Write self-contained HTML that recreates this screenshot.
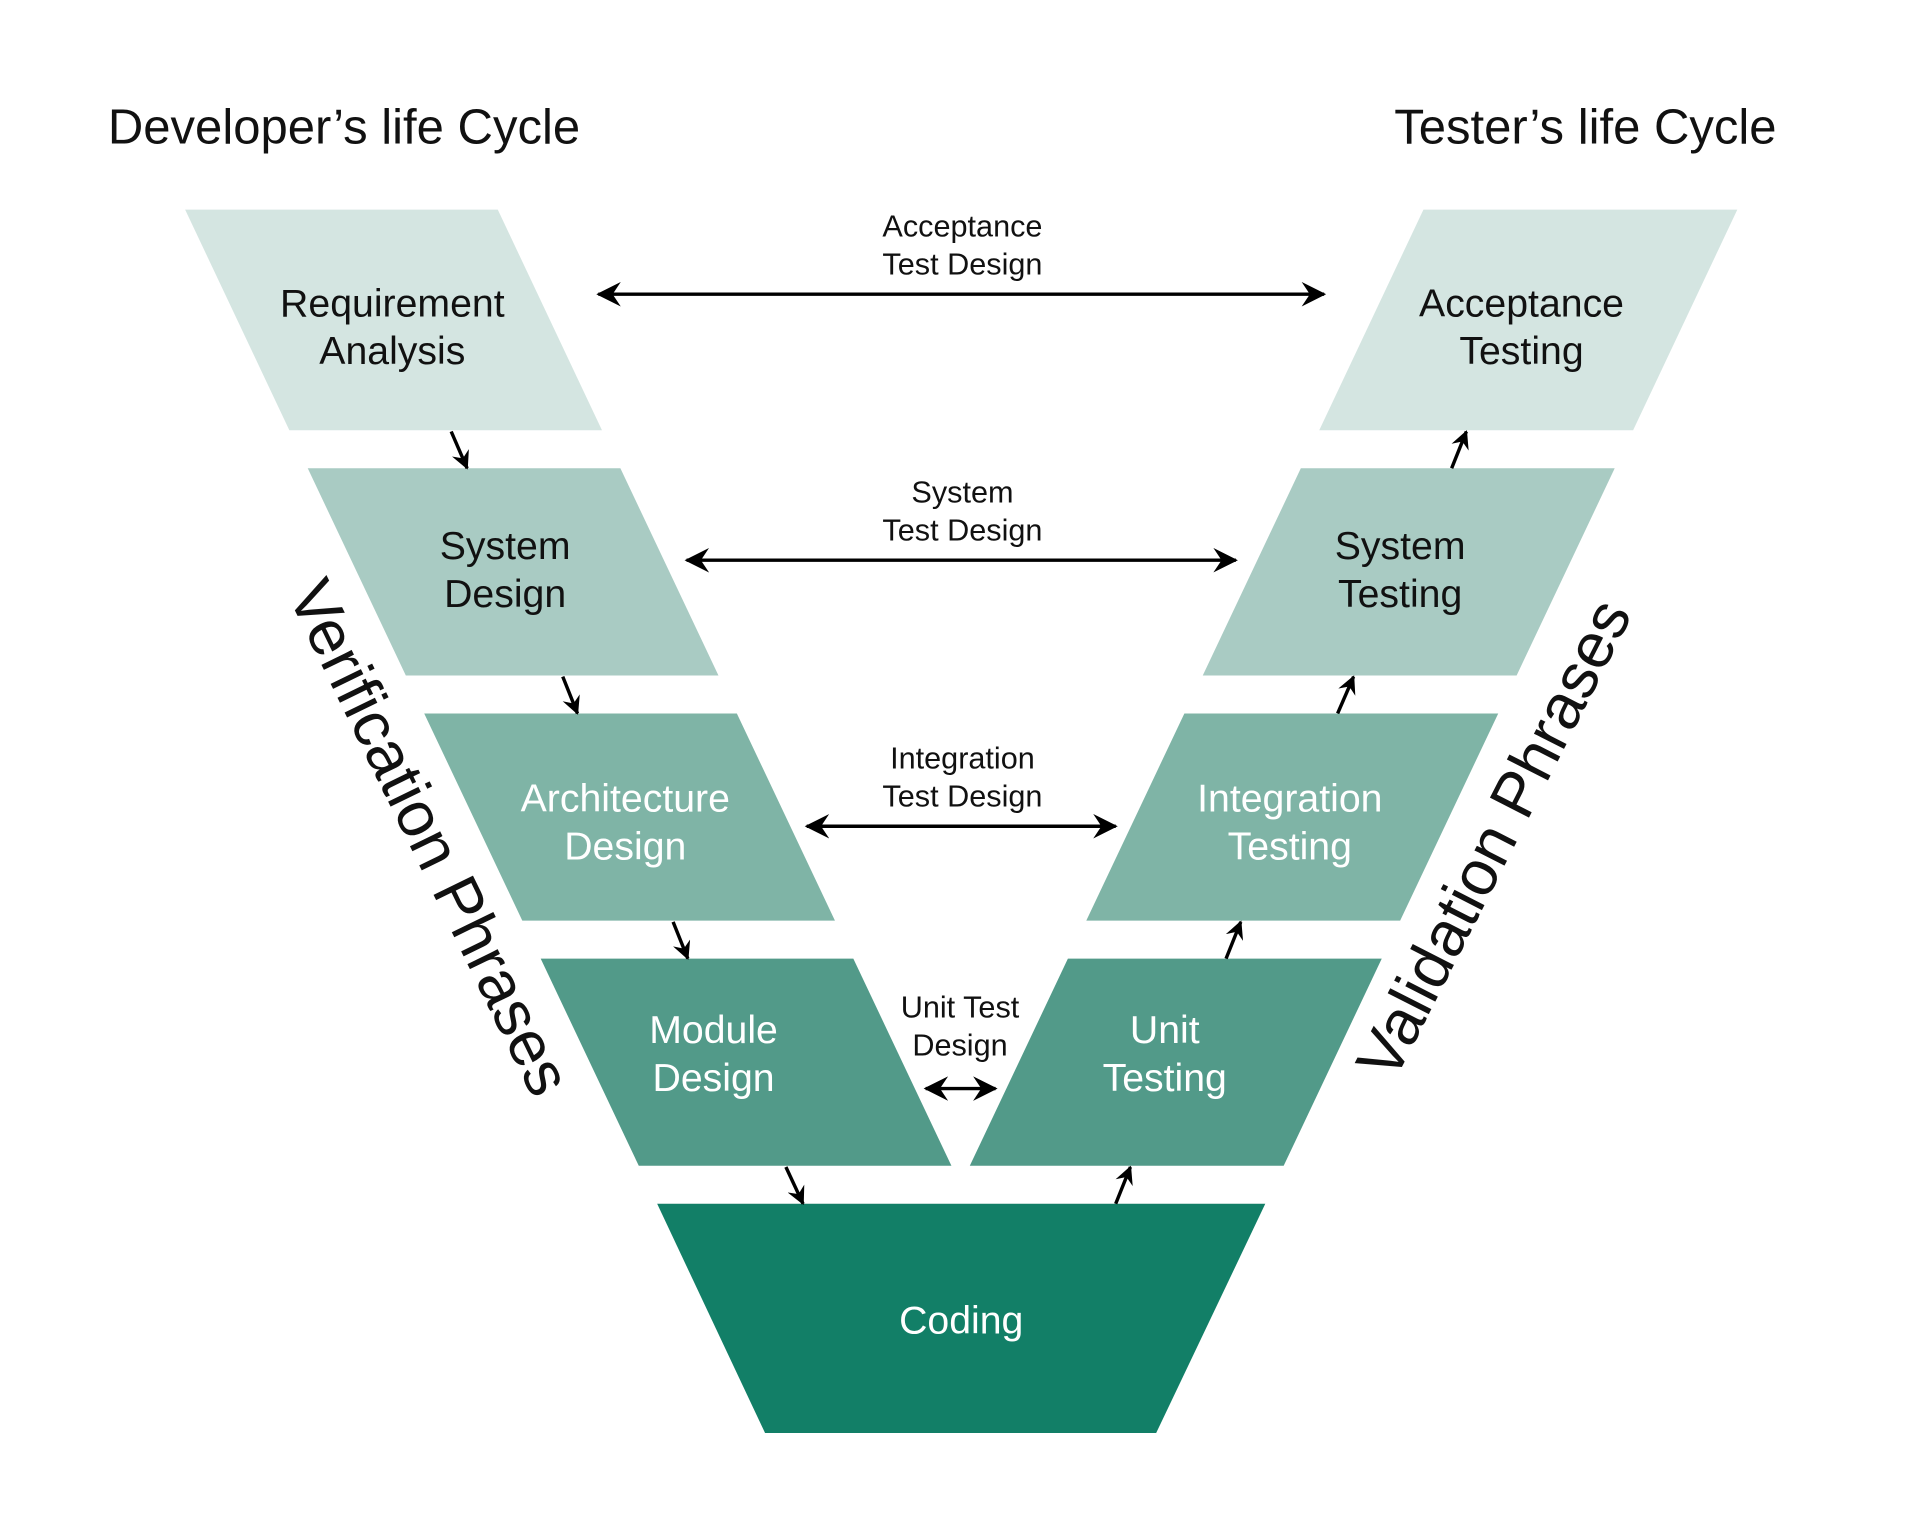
<!DOCTYPE html>
<html><head><meta charset="utf-8"><style>
html,body{margin:0;padding:0;background:#fff;}
svg{display:block;}
text{font-family:"Liberation Sans",sans-serif;}
</style></head><body>
<svg width="1920" height="1536" viewBox="0 0 1566 1253" preserveAspectRatio="none" xmlns="http://www.w3.org/2000/svg">
<defs>
<marker id="ah" viewBox="0 0 12 12" refX="11" refY="6" markerWidth="15" markerHeight="15" markerUnits="userSpaceOnUse" orient="auto-start-reverse">
<path d="M0,0 L12,6 L0,12 L4,6 Z" fill="#000"/>
</marker>
<marker id="ah2" viewBox="0 0 12 12" refX="11" refY="6" markerWidth="20" markerHeight="20" markerUnits="userSpaceOnUse" orient="auto-start-reverse">
<path d="M0,0 L12,6 L0,12 L4,6 Z" fill="#000"/>
</marker>
</defs>
<rect width="1566" height="1253" fill="#fff"/>
<text x="88" y="117" font-size="40" fill="#111">Developer’s life Cycle</text>
<text x="1449" y="117" font-size="40" fill="#111" text-anchor="end">Tester’s life Cycle</text>

<polygon points="151,171 406,171 491,351 236,351" fill="#d4e5e1"/>
<polygon points="251,382 506,382 586,551 331,551" fill="#a9cbc3"/>
<polygon points="346,582 601,582 681,751 426,751" fill="#7fb4a6"/>
<polygon points="441,782 696,782 776,951 521,951" fill="#529a89"/>
<polygon points="536,982 1032,982 943,1169 624,1169" fill="#127f67"/>
<polygon points="871,782 1127,782 1047,951 791,951" fill="#529a89"/>
<polygon points="966,582 1222,582 1142,751 886,751" fill="#7fb4a6"/>
<polygon points="1061,382 1317,382 1237,551 981,551" fill="#a9cbc3"/>
<polygon points="1161,171 1417,171 1332,351 1076,351" fill="#d4e5e1"/>

<g font-size="32" text-anchor="middle">
<text x="320" y="258" fill="#111">Requirement</text><text x="320" y="297" fill="#111">Analysis</text>
<text x="412" y="456" fill="#111">System</text><text x="412" y="495" fill="#111">Design</text>
<text x="510" y="662" fill="#fff">Architecture</text><text x="510" y="701" fill="#fff">Design</text>
<text x="582" y="851" fill="#fff">Module</text><text x="582" y="890" fill="#fff">Design</text>
<text x="784" y="1088" fill="#fff">Coding</text>
<text x="950" y="851" fill="#fff">Unit</text><text x="950" y="890" fill="#fff">Testing</text>
<text x="1052" y="662" fill="#fff">Integration</text><text x="1052" y="701" fill="#fff">Testing</text>
<text x="1142" y="456" fill="#111">System</text><text x="1142" y="495" fill="#111">Testing</text>
<text x="1241" y="258" fill="#111">Acceptance</text><text x="1241" y="297" fill="#111">Testing</text>
</g>

<g font-size="25" text-anchor="middle" fill="#111">
<text x="785" y="193">Acceptance</text><text x="785" y="224">Test Design</text>
<text x="785" y="410">System</text><text x="785" y="441">Test Design</text>
<text x="785" y="627">Integration</text><text x="785" y="658">Test Design</text>
<text x="783" y="830">Unit Test</text><text x="783" y="861">Design</text>
</g>

<g stroke="#000" stroke-width="2.8" fill="none">
<line x1="488" y1="240" x2="1080" y2="240" marker-start="url(#ah2)" marker-end="url(#ah2)"/>
<line x1="560" y1="457" x2="1008" y2="457" marker-start="url(#ah2)" marker-end="url(#ah2)"/>
<line x1="658" y1="674" x2="910" y2="674" marker-start="url(#ah2)" marker-end="url(#ah2)"/>
<line x1="755" y1="888" x2="812" y2="888" marker-start="url(#ah2)" marker-end="url(#ah2)"/>
<line x1="368" y1="352" x2="381" y2="382" marker-end="url(#ah)"/>
<line x1="459" y1="552" x2="471" y2="582" marker-end="url(#ah)"/>
<line x1="549" y1="752" x2="561" y2="782" marker-end="url(#ah)"/>
<line x1="641" y1="952" x2="655" y2="982" marker-end="url(#ah)"/>
<line x1="1184" y1="382" x2="1196" y2="352" marker-end="url(#ah)"/>
<line x1="1091" y1="582" x2="1104" y2="552" marker-end="url(#ah)"/>
<line x1="1000" y1="782" x2="1012" y2="752" marker-end="url(#ah)"/>
<line x1="910" y1="982" x2="922" y2="952" marker-end="url(#ah)"/>
</g>

<text x="347" y="685" font-size="52" fill="#111" text-anchor="middle" dominant-baseline="middle" transform="rotate(64 347 685)">Verification Phrases</text>
<text x="1222" y="686" font-size="52" fill="#111" text-anchor="middle" dominant-baseline="middle" transform="rotate(-63 1222 686)">Validation Phrases</text>
</svg>
</body></html>
